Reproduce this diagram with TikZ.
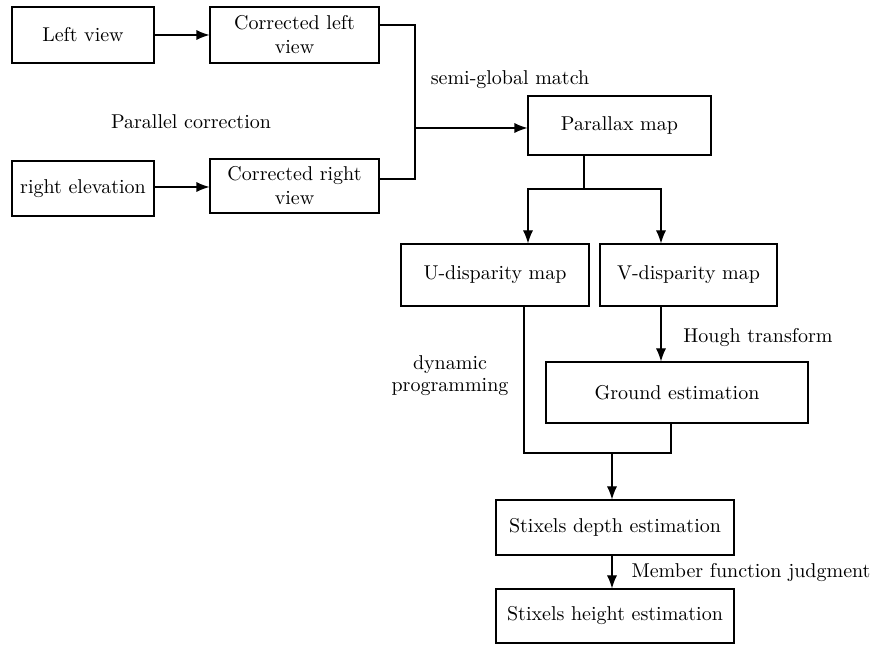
\documentclass[tikz,border=0pt]{standalone}
\usetikzlibrary{arrows.meta}

\tikzset{
  box/.style={draw, line width=0.55pt, align=center, inner sep=2pt, font=\fontsize{10}{12}\selectfont},
  lbl/.style={align=center, font=\fontsize{10}{12}\selectfont},
  arr/.style={-{Latex[length=6.5pt,width=5pt]}},
}

\begin{document}
\begin{tikzpicture}[x=0.5pt, y=-0.5pt, line width=0.55pt]
  \useasboundingbox (0,0) rectangle (874,646);

  %% input views
  \node[box, minimum width=71pt, minimum height=28pt] (left) at (83,35) {Left view};
  \node[box, minimum width=84.5pt, minimum height=28pt] (cleft) at (294.5,35) {Corrected left\\view};
  \node[box, minimum width=71pt, minimum height=27.5pt] (right) at (83,188.5) {right elevation};
  \node[box, minimum width=84.5pt, minimum height=27pt] (cright) at (294.5,186) {Corrected right\\view};

  %% disparity
  \node[box, minimum width=91.5pt, minimum height=29.5pt] (parallax) at (619.5,125.5) {Parallax map};
  \node[box, minimum width=94pt, minimum height=31pt] (udisp) at (495,275) {U-disparity map};
  \node[box, minimum width=88.5pt, minimum height=31pt] (vdisp) at (688.5,275) {V-disparity map};
  \node[box, minimum width=131pt, minimum height=30.5pt] (ground) at (677,392.5) {Ground estimation};

  %% stixels
  \node[box, minimum width=119pt, minimum height=27.5pt] (depth) at (615,527.5) {Stixels depth estimation};
  \node[box, minimum width=119pt, minimum height=27pt] (height) at (615,616) {Stixels height estimation};

  %% labels
  \node[lbl] (lparallel) at (191,122) {Parallel correction};
  \node[lbl] (lsgm) at (510,80) {semi-global match};
  \node[lbl] (ldyn) at (450,376) {dynamic\\[-1pt]programming};
  \node[lbl] (lhough) at (758,338) {Hough transform};
  \node[lbl] (lmember) at (751,573) {Member function judgment};

  \coordinate (bus) at (415,128);
  \coordinate (split) at (584,189);
  \coordinate (join) at (612,453);

  %% connectors
  \draw[arr] (left) -- (cleft);
  \draw[arr] ([yshift=0.75pt]right.east) -- ([yshift=0.75pt]right.east -| cright.west);
  \draw ([yshift=5pt]cleft.east) -| (bus);
  \draw ([yshift=3.5pt]cright.east) -| (bus);
  \draw[arr] (bus) -- (bus -| parallax.west);
  \draw (split |- parallax.south) -- (split);
  \draw[arr] (split) -| ([xshift=16.5pt]udisp.north);
  \draw[arr] (split) -| ([xshift=-13.75pt]vdisp.north);
  \draw[arr] ([xshift=-13.75pt]vdisp.south) -- ([xshift=-8pt]ground.north);
  \draw ([xshift=14.5pt]udisp.south) |- (join);
  \draw ([xshift=-3pt]ground.south) |- (join);
  \draw[arr] (join) -- (join |- depth.north);
  \draw[arr] (join |- depth.south) -- (join |- height.north);
\end{tikzpicture}
\end{document}
